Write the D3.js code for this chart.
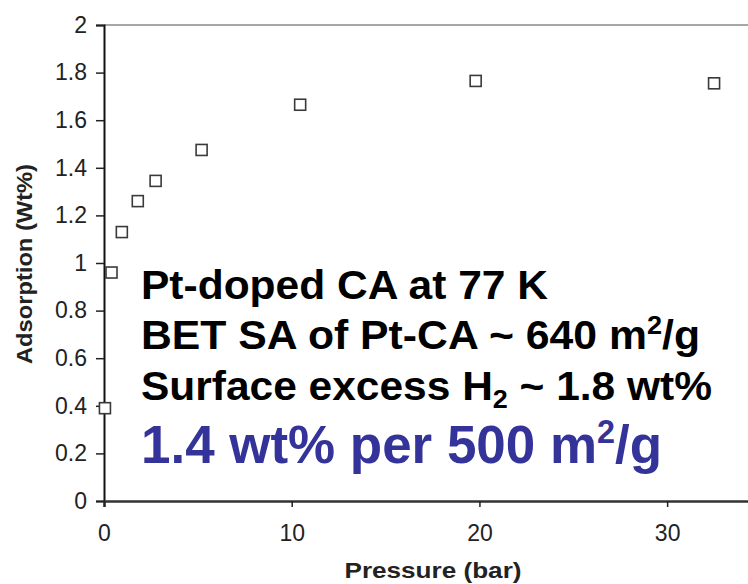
<!DOCTYPE html>
<html>
<head>
<meta charset="utf-8">
<script src="https://cdn.jsdelivr.net/npm/d3@7"></script>
<style>
  html, body { margin: 0; padding: 0; background: #fff; }
  svg { display: block; }
  text { font-family: "Liberation Sans", Arial, sans-serif; }
</style>
</head>
<body>
<svg id="chart" width="748" height="584"></svg>
<script>
// measured points (pressure in bar, adsorption in wt%)
var pressure = [0.05, 0.4, 0.95, 1.8, 2.75, 5.2, 10.45, 19.8, 32.5];
var adsorption = [0.39, 0.96, 1.13, 1.26, 1.345, 1.475, 1.665, 1.765, 1.755];
var xTicks = [0, 10, 20, 30];
var yTicks = [0, 0.2, 0.4, 0.6, 0.8, 1, 1.2, 1.4, 1.6, 1.8, 2];

var points = pressure.map(function(p, i) { return {x: p, y: adsorption[i]}; });

var svg = d3.select("#chart");
// plot box (right edge runs past the picture)
var plotL = 104, plotR = 761, plotT = 25, plotB = 501;

var x = d3.scaleLinear().domain([0, 35]).range([plotL, plotR]);
var y = d3.scaleLinear().domain([0, 2]).range([plotB, plotT]);

// top border of the plot area
svg.append("line")
  .attr("x1", plotL).attr("x2", plotR)
  .attr("y1", plotT).attr("y2", plotT)
  .attr("stroke", "#8a8a8a").attr("stroke-width", 1.5);

// y axis
var yAxis = svg.append("g")
  .attr("transform", "translate(" + plotL + ",0)")
  .call(d3.axisLeft(y).tickValues(yTicks).tickSize(8).tickPadding(9)
    .tickFormat(function(d) { return d3.format("~g")(d); }));
yAxis.select(".domain").attr("stroke", "#111").attr("stroke-width", 2);
yAxis.selectAll(".tick line").attr("stroke", "#222").attr("stroke-width", 1.5);
yAxis.selectAll(".tick text")
  .attr("fill", "#222")
  .style("font-size", "23px")
  .style("font-family", "Liberation Sans, Arial, sans-serif");

// x axis
var xAxis = svg.append("g")
  .attr("transform", "translate(0," + plotB + ")")
  .call(d3.axisBottom(x).tickValues(xTicks).tickSize(6).tickPadding(18));
xAxis.select(".domain").attr("stroke", "#333").attr("stroke-width", 2.5);
xAxis.selectAll(".tick line").attr("stroke", "#222").attr("stroke-width", 1.5);
xAxis.selectAll(".tick text")
  .attr("fill", "#222")
  .style("font-size", "23px")
  .style("font-family", "Liberation Sans, Arial, sans-serif");

// axis titles
svg.append("text")
  .attr("transform", "rotate(-90)")
  .attr("x", -264).attr("y", 32)
  .attr("text-anchor", "middle")
  .attr("font-size", 22).attr("font-weight", "bold").attr("fill", "#222")
  .attr("textLength", 200).attr("lengthAdjust", "spacingAndGlyphs")
  .text("Adsorption (Wt%)");

svg.append("text")
  .attr("x", 433).attr("y", 578)
  .attr("text-anchor", "middle")
  .attr("font-size", 22).attr("font-weight", "bold").attr("fill", "#222")
  .attr("textLength", 177).attr("lengthAdjust", "spacingAndGlyphs")
  .text("Pressure (bar)");

// hollow square markers
svg.selectAll("rect.pt")
  .data(points)
  .enter()
  .append("rect")
  .attr("class", "pt")
  .attr("x", function(d) { return x(d.x) - 5.5; })
  .attr("y", function(d) { return y(d.y) - 5.5; })
  .attr("width", 11).attr("height", 11)
  .attr("fill", "#fff")
  .attr("stroke", "#3a3a3a").attr("stroke-width", 1.6);

// annotation lines
function note(yPos, size, color, len, parts) {
  var t = svg.append("text")
    .attr("x", 141).attr("y", yPos)
    .attr("font-size", size).attr("font-weight", "bold").attr("fill", color)
    .attr("textLength", len).attr("lengthAdjust", "spacingAndGlyphs");
  parts.forEach(function(p) {
    var s = t.append("tspan").text(p.t);
    if (p.dy) s.attr("dy", p.dy);
    if (p.fs) s.attr("font-size", p.fs);
  });
}

note(299, 41, "#000", 407, [{t: "Pt-doped CA at 77 K"}]);
note(349, 41, "#000", 559, [
  {t: "BET SA of Pt-CA ~ 640 m"},
  {t: "2", dy: -15, fs: 26},
  {t: "/g", dy: 15}
]);
note(400, 41, "#000", 571, [
  {t: "Surface excess H"},
  {t: "2", dy: 8, fs: 26},
  {t: " ~ 1.8 wt%", dy: -8}
]);
note(463, 54, "#333399", 521, [
  {t: "1.4 wt% per 500 m"},
  {t: "2", dy: -20, fs: 33},
  {t: "/g", dy: 20}
]);
</script>
</body>
</html>
